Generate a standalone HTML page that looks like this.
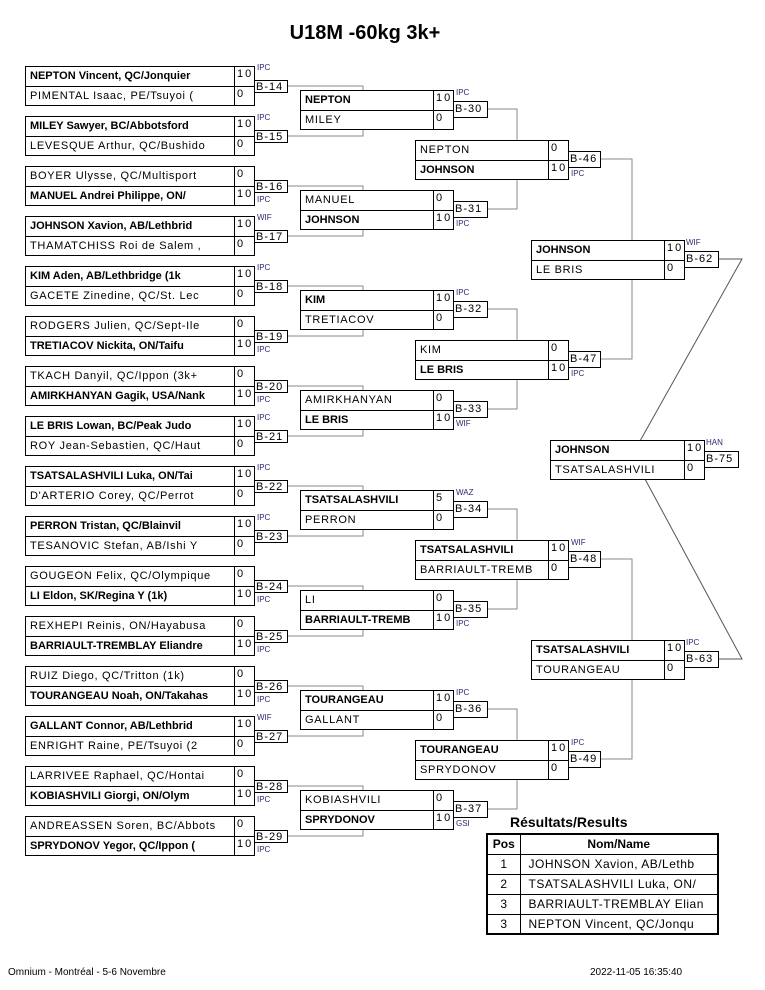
<!DOCTYPE html>
<html><head><meta charset="utf-8"><style>
*{margin:0;padding:0;box-sizing:border-box}
body{width:765px;height:990px;background:#fff;position:relative;font-family:"Liberation Sans",Arial,sans-serif;color:#000;overflow:hidden}
.m{position:absolute;border:1px solid #000;background:#fff}
.r{position:relative;height:19px;font-size:11px;line-height:18px;white-space:nowrap;overflow:hidden}
.r+.r{border-top:1px solid #000}
.nm{position:absolute;left:4px;top:0;letter-spacing:0.7px}
.b .nm{font-weight:bold;letter-spacing:0}
.sc{position:absolute;top:-2px;bottom:0;border-left:1px solid #000;padding-left:2px;letter-spacing:2px}
.bx{position:absolute;border:1px solid #000;background:#fff;font-size:11px;line-height:12px;padding-left:1px;letter-spacing:1px}
.w{position:absolute;font-size:8px;line-height:9px;color:#2d2a6e}
svg{position:absolute;left:0;top:0}
</style></head><body>
<div style="position:absolute;left:0;width:730px;top:22px;text-align:center;font-size:20px;font-weight:bold">U18M -60kg 3k+</div>
<svg width="765" height="990" fill="none" stroke="#888" stroke-width="1">
<path d="M287 86H363V90M287 136H363V130M287 186H363V190M287 236H363V230M287 286H363V290M287 336H363V330M287 386H363V390M287 436H363V430M287 486H363V490M287 536H363V530M287 586H363V590M287 636H363V630M287 686H363V690M287 736H363V730M287 786H363V790M287 836H363V830"/>
<path d="M488 109H517V140M488 209H517V179M488 309H517V340M488 409H517V379M488 509H517V540M488 609H517V579M488 709H517V740M488 809H517V779"/>
<path d="M600 159H632V240M600 359H632V279M600 559H632V640M600 759H632V679"/>
<path d="M718 259H742L640 441M718 659H742L645 479" stroke="#555"/>
</svg>

<div class="m" style="left:25px;top:66px;width:230px"><div class="r b"><span class="nm">NEPTON Vincent, QC/Jonquier</span><span class="sc" style="left:208px">10</span></div><div class="r"><span class="nm">PIMENTAL Isaac, PE/Tsuyoi (</span><span class="sc" style="left:208px">0</span></div></div>
<div class="m" style="left:25px;top:116px;width:230px"><div class="r b"><span class="nm">MILEY Sawyer, BC/Abbotsford</span><span class="sc" style="left:208px">10</span></div><div class="r"><span class="nm">LEVESQUE Arthur, QC/Bushido</span><span class="sc" style="left:208px">0</span></div></div>
<div class="m" style="left:25px;top:166px;width:230px"><div class="r"><span class="nm">BOYER Ulysse, QC/Multisport</span><span class="sc" style="left:208px">0</span></div><div class="r b"><span class="nm">MANUEL Andrei Philippe, ON/</span><span class="sc" style="left:208px">10</span></div></div>
<div class="m" style="left:25px;top:216px;width:230px"><div class="r b"><span class="nm">JOHNSON Xavion, AB/Lethbrid</span><span class="sc" style="left:208px">10</span></div><div class="r"><span class="nm">THAMATCHISS Roi de Salem ,</span><span class="sc" style="left:208px">0</span></div></div>
<div class="m" style="left:25px;top:266px;width:230px"><div class="r b"><span class="nm">KIM Aden, AB/Lethbridge (1k</span><span class="sc" style="left:208px">10</span></div><div class="r"><span class="nm">GACETE Zinedine, QC/St. Lec</span><span class="sc" style="left:208px">0</span></div></div>
<div class="m" style="left:25px;top:316px;width:230px"><div class="r"><span class="nm">RODGERS Julien, QC/Sept-Ile</span><span class="sc" style="left:208px">0</span></div><div class="r b"><span class="nm">TRETIACOV Nickita, ON/Taifu</span><span class="sc" style="left:208px">10</span></div></div>
<div class="m" style="left:25px;top:366px;width:230px"><div class="r"><span class="nm">TKACH Danyil, QC/Ippon (3k+</span><span class="sc" style="left:208px">0</span></div><div class="r b"><span class="nm">AMIRKHANYAN Gagik, USA/Nank</span><span class="sc" style="left:208px">10</span></div></div>
<div class="m" style="left:25px;top:416px;width:230px"><div class="r b"><span class="nm">LE BRIS Lowan, BC/Peak Judo</span><span class="sc" style="left:208px">10</span></div><div class="r"><span class="nm">ROY Jean-Sebastien, QC/Haut</span><span class="sc" style="left:208px">0</span></div></div>
<div class="m" style="left:25px;top:466px;width:230px"><div class="r b"><span class="nm">TSATSALASHVILI Luka, ON/Tai</span><span class="sc" style="left:208px">10</span></div><div class="r"><span class="nm">D'ARTERIO Corey, QC/Perrot</span><span class="sc" style="left:208px">0</span></div></div>
<div class="m" style="left:25px;top:516px;width:230px"><div class="r b"><span class="nm">PERRON Tristan, QC/Blainvil</span><span class="sc" style="left:208px">10</span></div><div class="r"><span class="nm">TESANOVIC Stefan, AB/Ishi Y</span><span class="sc" style="left:208px">0</span></div></div>
<div class="m" style="left:25px;top:566px;width:230px"><div class="r"><span class="nm">GOUGEON Felix, QC/Olympique</span><span class="sc" style="left:208px">0</span></div><div class="r b"><span class="nm">LI Eldon, SK/Regina Y (1k)</span><span class="sc" style="left:208px">10</span></div></div>
<div class="m" style="left:25px;top:616px;width:230px"><div class="r"><span class="nm">REXHEPI Reinis, ON/Hayabusa</span><span class="sc" style="left:208px">0</span></div><div class="r b"><span class="nm">BARRIAULT-TREMBLAY Eliandre</span><span class="sc" style="left:208px">10</span></div></div>
<div class="m" style="left:25px;top:666px;width:230px"><div class="r"><span class="nm">RUIZ Diego, QC/Tritton (1k)</span><span class="sc" style="left:208px">0</span></div><div class="r b"><span class="nm">TOURANGEAU Noah, ON/Takahas</span><span class="sc" style="left:208px">10</span></div></div>
<div class="m" style="left:25px;top:716px;width:230px"><div class="r b"><span class="nm">GALLANT Connor, AB/Lethbrid</span><span class="sc" style="left:208px">10</span></div><div class="r"><span class="nm">ENRIGHT Raine, PE/Tsuyoi (2</span><span class="sc" style="left:208px">0</span></div></div>
<div class="m" style="left:25px;top:766px;width:230px"><div class="r"><span class="nm">LARRIVEE Raphael, QC/Hontai</span><span class="sc" style="left:208px">0</span></div><div class="r b"><span class="nm">KOBIASHVILI Giorgi, ON/Olym</span><span class="sc" style="left:208px">10</span></div></div>
<div class="m" style="left:25px;top:816px;width:230px"><div class="r"><span class="nm">ANDREASSEN Soren, BC/Abbots</span><span class="sc" style="left:208px">0</span></div><div class="r b"><span class="nm">SPRYDONOV Yegor, QC/Ippon (</span><span class="sc" style="left:208px">10</span></div></div>

<div class="bx" style="left:254px;top:80px;width:34px;height:13px">B-14</div><div class="w" style="left:257px;top:63px">IPC</div>
<div class="bx" style="left:254px;top:130px;width:34px;height:13px">B-15</div><div class="w" style="left:257px;top:113px">IPC</div>
<div class="bx" style="left:254px;top:180px;width:34px;height:13px">B-16</div><div class="w" style="left:257px;top:195px">IPC</div>
<div class="bx" style="left:254px;top:230px;width:34px;height:13px">B-17</div><div class="w" style="left:257px;top:213px">WIF</div>
<div class="bx" style="left:254px;top:280px;width:34px;height:13px">B-18</div><div class="w" style="left:257px;top:263px">IPC</div>
<div class="bx" style="left:254px;top:330px;width:34px;height:13px">B-19</div><div class="w" style="left:257px;top:345px">IPC</div>
<div class="bx" style="left:254px;top:380px;width:34px;height:13px">B-20</div><div class="w" style="left:257px;top:395px">IPC</div>
<div class="bx" style="left:254px;top:430px;width:34px;height:13px">B-21</div><div class="w" style="left:257px;top:413px">IPC</div>
<div class="bx" style="left:254px;top:480px;width:34px;height:13px">B-22</div><div class="w" style="left:257px;top:463px">IPC</div>
<div class="bx" style="left:254px;top:530px;width:34px;height:13px">B-23</div><div class="w" style="left:257px;top:513px">IPC</div>
<div class="bx" style="left:254px;top:580px;width:34px;height:13px">B-24</div><div class="w" style="left:257px;top:595px">IPC</div>
<div class="bx" style="left:254px;top:630px;width:34px;height:13px">B-25</div><div class="w" style="left:257px;top:645px">IPC</div>
<div class="bx" style="left:254px;top:680px;width:34px;height:13px">B-26</div><div class="w" style="left:257px;top:695px">IPC</div>
<div class="bx" style="left:254px;top:730px;width:34px;height:13px">B-27</div><div class="w" style="left:257px;top:713px">WIF</div>
<div class="bx" style="left:254px;top:780px;width:34px;height:13px">B-28</div><div class="w" style="left:257px;top:795px">IPC</div>
<div class="bx" style="left:254px;top:830px;width:34px;height:13px">B-29</div><div class="w" style="left:257px;top:845px">IPC</div>

<div class="m" style="left:300px;top:90px;width:154px"><div class="r b"><span class="nm">NEPTON</span><span class="sc" style="left:132px">10</span></div><div class="r"><span class="nm">MILEY</span><span class="sc" style="left:132px">0</span></div></div>
<div class="m" style="left:300px;top:190px;width:154px"><div class="r"><span class="nm">MANUEL</span><span class="sc" style="left:132px">0</span></div><div class="r b"><span class="nm">JOHNSON</span><span class="sc" style="left:132px">10</span></div></div>
<div class="m" style="left:300px;top:290px;width:154px"><div class="r b"><span class="nm">KIM</span><span class="sc" style="left:132px">10</span></div><div class="r"><span class="nm">TRETIACOV</span><span class="sc" style="left:132px">0</span></div></div>
<div class="m" style="left:300px;top:390px;width:154px"><div class="r"><span class="nm">AMIRKHANYAN</span><span class="sc" style="left:132px">0</span></div><div class="r b"><span class="nm">LE BRIS</span><span class="sc" style="left:132px">10</span></div></div>
<div class="m" style="left:300px;top:490px;width:154px"><div class="r b"><span class="nm">TSATSALASHVILI</span><span class="sc" style="left:132px">5</span></div><div class="r"><span class="nm">PERRON</span><span class="sc" style="left:132px">0</span></div></div>
<div class="m" style="left:300px;top:590px;width:154px"><div class="r"><span class="nm">LI</span><span class="sc" style="left:132px">0</span></div><div class="r b"><span class="nm">BARRIAULT-TREMB</span><span class="sc" style="left:132px">10</span></div></div>
<div class="m" style="left:300px;top:690px;width:154px"><div class="r b"><span class="nm">TOURANGEAU</span><span class="sc" style="left:132px">10</span></div><div class="r"><span class="nm">GALLANT</span><span class="sc" style="left:132px">0</span></div></div>
<div class="m" style="left:300px;top:790px;width:154px"><div class="r"><span class="nm">KOBIASHVILI</span><span class="sc" style="left:132px">0</span></div><div class="r b"><span class="nm">SPRYDONOV</span><span class="sc" style="left:132px">10</span></div></div>

<div class="bx" style="left:453px;top:101px;width:35px;height:17px;line-height:15px">B-30</div><div class="w" style="left:456px;top:88px">IPC</div>
<div class="bx" style="left:453px;top:201px;width:35px;height:17px;line-height:15px">B-31</div><div class="w" style="left:456px;top:219px">IPC</div>
<div class="bx" style="left:453px;top:301px;width:35px;height:17px;line-height:15px">B-32</div><div class="w" style="left:456px;top:288px">IPC</div>
<div class="bx" style="left:453px;top:401px;width:35px;height:17px;line-height:15px">B-33</div><div class="w" style="left:456px;top:419px">WIF</div>
<div class="bx" style="left:453px;top:501px;width:35px;height:17px;line-height:15px">B-34</div><div class="w" style="left:456px;top:488px">WAZ</div>
<div class="bx" style="left:453px;top:601px;width:35px;height:17px;line-height:15px">B-35</div><div class="w" style="left:456px;top:619px">IPC</div>
<div class="bx" style="left:453px;top:701px;width:35px;height:17px;line-height:15px">B-36</div><div class="w" style="left:456px;top:688px">IPC</div>
<div class="bx" style="left:453px;top:801px;width:35px;height:17px;line-height:15px">B-37</div><div class="w" style="left:456px;top:819px">GSI</div>

<div class="m" style="left:415px;top:140px;width:154px"><div class="r"><span class="nm">NEPTON</span><span class="sc" style="left:132px">0</span></div><div class="r b"><span class="nm">JOHNSON</span><span class="sc" style="left:132px">10</span></div></div>
<div class="m" style="left:415px;top:340px;width:154px"><div class="r"><span class="nm">KIM</span><span class="sc" style="left:132px">0</span></div><div class="r b"><span class="nm">LE BRIS</span><span class="sc" style="left:132px">10</span></div></div>
<div class="m" style="left:415px;top:540px;width:154px"><div class="r b"><span class="nm">TSATSALASHVILI</span><span class="sc" style="left:132px">10</span></div><div class="r"><span class="nm">BARRIAULT-TREMB</span><span class="sc" style="left:132px">0</span></div></div>
<div class="m" style="left:415px;top:740px;width:154px"><div class="r b"><span class="nm">TOURANGEAU</span><span class="sc" style="left:132px">10</span></div><div class="r"><span class="nm">SPRYDONOV</span><span class="sc" style="left:132px">0</span></div></div>

<div class="bx" style="left:568px;top:151px;width:33px;height:17px;line-height:15px">B-46</div><div class="w" style="left:571px;top:169px">IPC</div>
<div class="bx" style="left:568px;top:351px;width:33px;height:17px;line-height:15px">B-47</div><div class="w" style="left:571px;top:369px">IPC</div>
<div class="bx" style="left:568px;top:551px;width:33px;height:17px;line-height:15px">B-48</div><div class="w" style="left:571px;top:538px">WIF</div>
<div class="bx" style="left:568px;top:751px;width:33px;height:17px;line-height:15px">B-49</div><div class="w" style="left:571px;top:738px">IPC</div>

<div class="m" style="left:531px;top:240px;width:154px"><div class="r b"><span class="nm">JOHNSON</span><span class="sc" style="left:132px">10</span></div><div class="r"><span class="nm">LE BRIS</span><span class="sc" style="left:132px">0</span></div></div>
<div class="m" style="left:531px;top:640px;width:154px"><div class="r b"><span class="nm">TSATSALASHVILI</span><span class="sc" style="left:132px">10</span></div><div class="r"><span class="nm">TOURANGEAU</span><span class="sc" style="left:132px">0</span></div></div>
<div class="bx" style="left:684px;top:251px;width:35px;height:17px;line-height:15px">B-62</div><div class="w" style="left:686px;top:238px">WIF</div>
<div class="bx" style="left:684px;top:651px;width:35px;height:17px;line-height:15px">B-63</div><div class="w" style="left:686px;top:638px">IPC</div>

<div class="m" style="left:550px;top:440px;width:155px"><div class="r b"><span class="nm">JOHNSON</span><span class="sc" style="left:133px">10</span></div><div class="r"><span class="nm">TSATSALASHVILI</span><span class="sc" style="left:133px">0</span></div></div>
<div class="bx" style="left:704px;top:451px;width:35px;height:17px;line-height:15px">B-75</div><div class="w" style="left:706px;top:438px">HAN</div>

<div style="position:absolute;left:510px;top:814px;font-size:14px;font-weight:bold">Résultats/Results</div>
<table style="position:absolute;left:486px;top:833px;width:233px;border-collapse:collapse;font-size:12px;border:2px solid #000">
<tr style="height:20px"><th style="width:33px;border:1px solid #000">Pos</th><th style="border:1px solid #000">Nom/Name</th></tr>
<tr style="height:20px"><td style="border:1px solid #000;text-align:center">1</td><td style="border:1px solid #000;padding-left:8px;letter-spacing:.5px;white-space:nowrap">JOHNSON Xavion, AB/Lethb</td></tr>
<tr style="height:20px"><td style="border:1px solid #000;text-align:center">2</td><td style="border:1px solid #000;padding-left:8px;letter-spacing:.5px;white-space:nowrap">TSATSALASHVILI Luka, ON/</td></tr>
<tr style="height:20px"><td style="border:1px solid #000;text-align:center">3</td><td style="border:1px solid #000;padding-left:8px;letter-spacing:.5px;white-space:nowrap;overflow:hidden">BARRIAULT-TREMBLAY Elian</td></tr>
<tr style="height:20px"><td style="border:1px solid #000;text-align:center">3</td><td style="border:1px solid #000;padding-left:8px;letter-spacing:.5px;white-space:nowrap">NEPTON Vincent, QC/Jonqu</td></tr>
</table>

<div style="position:absolute;left:8px;top:967px;font-size:10px">Omnium - Montréal - 5-6 Novembre</div>
<div style="position:absolute;left:590px;top:967px;font-size:10px">2022-11-05 16:35:40</div>
</body></html>
